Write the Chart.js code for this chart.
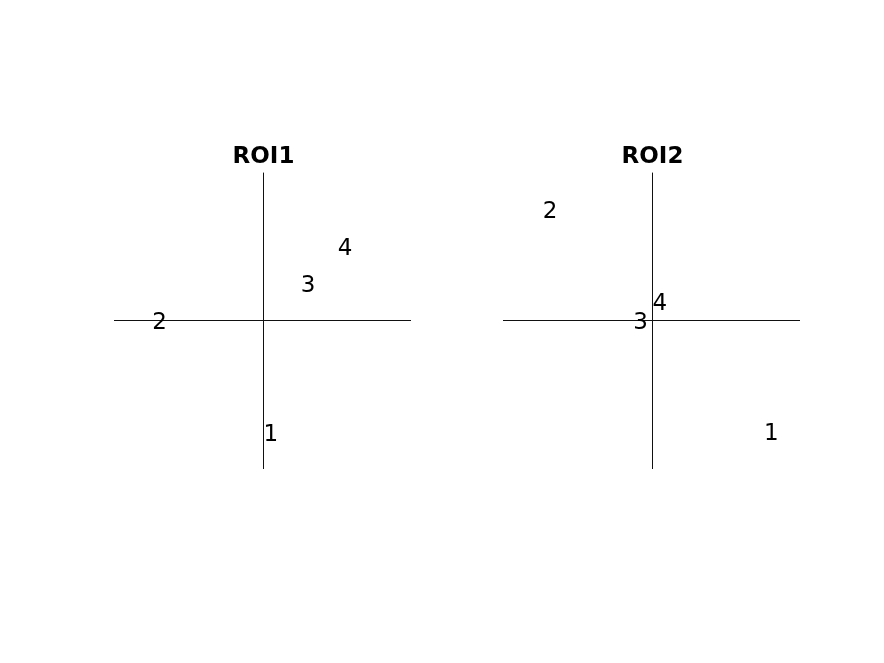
<!DOCTYPE html>
<html>
<head>
<meta charset="utf-8">
<script src="https://cdn.jsdelivr.net/npm/chart.js@4/dist/chart.umd.min.js"></script>
<style>
body { margin: 0; background: #fff; width: 884px; height: 663px; position: relative; overflow: hidden; }
.panel { position: absolute; top: 130px; width: 337px; height: 359px; }
</style>
</head>
<body>
<div class="panel" style="left:95px"><canvas id="roi1"></canvas></div>
<div class="panel" style="left:484px"><canvas id="roi2"></canvas></div>
<script>
// Point labels and coordinates for each panel
const pointLabels = ['1', '2', '3', '4'];
const roi1X = [0.05, -0.70, 0.30, 0.55];
const roi1Y = [-0.755, 0.00, 0.25, 0.50];
const roi2X = [0.80, -0.69, -0.08, 0.05];
const roi2Y = [-0.75, 0.75, 0.00, 0.13];
const axisMin = -1;
const axisMax = 1;

// crosshair through the origin
const crossLines = {
  id: 'crossLines',
  beforeDatasetsDraw(chart) {
    const { ctx, chartArea, scales } = chart;
    const x0 = Math.floor(scales.x.getPixelForValue(0)) + 0.5;
    const y0 = Math.floor(scales.y.getPixelForValue(0)) + 0.5;
    ctx.save();
    ctx.strokeStyle = '#111';
    ctx.lineWidth = 1;
    ctx.beginPath();
    ctx.moveTo(chartArea.left - 1, y0);
    ctx.lineTo(chartArea.right - 1, y0);
    ctx.moveTo(x0, chartArea.top);
    ctx.lineTo(x0, chartArea.bottom);
    ctx.stroke();
    ctx.restore();
  }
};

// draw text labels in place of point markers
const textPoints = {
  id: 'textPoints',
  afterDatasetsDraw(chart) {
    const { ctx } = chart;
    const meta = chart.getDatasetMeta(0);
    ctx.save();
    ctx.fillStyle = '#000';
    ctx.font = '23px "DejaVu Sans"';
    ctx.textAlign = 'center';
    ctx.textBaseline = 'middle';
    meta.data.forEach((pt, i) => {
      // nudge so the digit's visual centre sits on the point
      ctx.fillText(pointLabels[i], pt.x, pt.y + 2);
    });
    ctx.restore();
  }
};

function makePanel(id, title, xs, ys) {
  const ctx = document.getElementById(id).getContext('2d');
  new Chart(ctx, {
    type: 'scatter',
    data: {
      datasets: [{
        data: xs.map((x, i) => ({ x: x, y: ys[i] })),
        pointRadius: 0,
        pointHoverRadius: 0
      }]
    },
    options: {
      responsive: true,
      maintainAspectRatio: false,
      animation: false,
      layout: { padding: { left: 20, right: 20, top: 0, bottom: 20 } },
      plugins: {
        legend: { display: false },
        tooltip: { enabled: false },
        title: {
          display: true,
          text: title,
          color: '#000',
          font: { family: 'DejaVu Sans', size: 23, weight: 'bold' },
          padding: { top: 13, bottom: 2 }
        }
      },
      scales: {
        x: { type: 'linear', min: axisMin, max: axisMax, display: false },
        y: { type: 'linear', min: axisMin, max: axisMax, display: false }
      }
    },
    plugins: [crossLines, textPoints]
  });
}

makePanel('roi1', 'ROI1', roi1X, roi1Y);
makePanel('roi2', 'ROI2', roi2X, roi2Y);
</script>
</body>
</html>
